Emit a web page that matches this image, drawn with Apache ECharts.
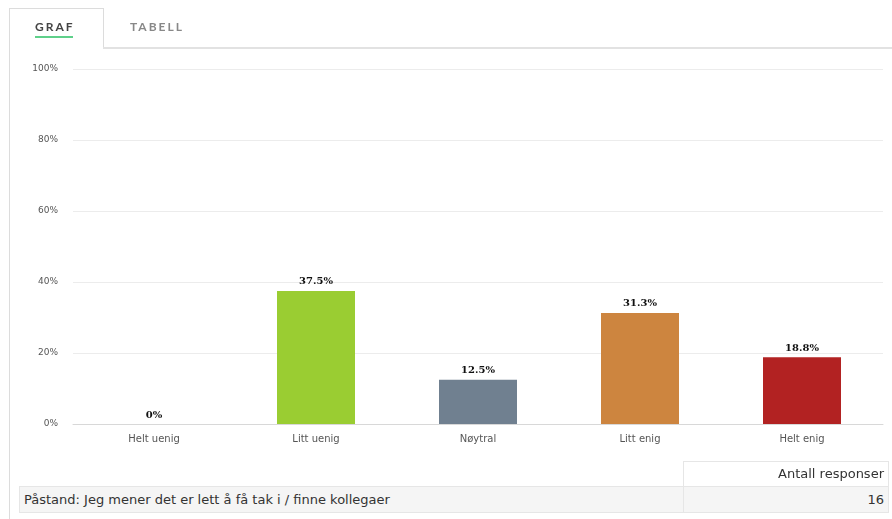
<!DOCTYPE html>
<html>
<head>
<meta charset="utf-8">
<script src="https://cdn.jsdelivr.net/npm/echarts@6/dist/echarts.min.js"></script>
<style>
  html, body { margin: 0; padding: 0; background: #fff; }
  body { width: 892px; height: 519px; position: relative; overflow: hidden; font-family: "DejaVu Sans", sans-serif; }
  #chart { position: absolute; left: 0; top: 0; width: 892px; height: 519px; }
  .panel-left { position: absolute; left: 9px; top: 8px; width: 1px; height: 511px; background: #dcdcdc; }
  .tab-line { position: absolute; left: 103px; top: 47px; width: 789px; height: 2px; background: #e2e2e2; }
  .tab-top { position: absolute; left: 9px; top: 8px; width: 94px; height: 1px; background: #dcdcdc; }
  .tab-right { position: absolute; left: 103px; top: 8px; width: 1px; height: 41px; background: #dcdcdc; }
  .tab { position: absolute; top: 19px; font-size: 12px; font-weight: bold; letter-spacing: 2px; font-family: "Lato", "Open Sans", sans-serif; }
  .tab.active { left: 35px; color: #444; }
  .tab.active::after { content: ""; position: absolute; left: 0; right: 2px; top: 17px; height: 2px; background: #5fd08a; }
  .tab.other { left: 130px; color: #888; }
  .tbl-head { position: absolute; left: 683px; top: 461px; width: 206px; height: 25px; border: 1px solid #e6e6e6; border-bottom: none; box-sizing: border-box; font-size: 13px; color: #333; text-align: right; line-height: 24px; padding-right: 4px; }
  .tbl-row { position: absolute; left: 19px; top: 486px; width: 870px; height: 27px; background: #f5f5f5; border: 1px solid #e6e6e6; box-sizing: border-box; font-size: 13px; color: #333; line-height: 25px; }
  .tbl-row .q { position: absolute; left: 4px; }
  .tbl-row .n { position: absolute; right: 4px; }
  .tbl-row .div { position: absolute; left: 663px; top: 0; width: 1px; height: 25px; background: #e6e6e6; }
</style>
</head>
<body>
<div id="chart"></div>
<div class="panel-left"></div>
<div class="tab-top"></div>
<div class="tab-right"></div>
<div class="tab-line"></div>
<div class="tab active">GRAF</div>
<div class="tab other">TABELL</div>
<div class="tbl-head">Antall responser</div>
<div class="tbl-row"><span class="q">Påstand: Jeg mener det er lett å få tak i / finne kollegaer</span><span class="div"></span><span class="n">16</span></div>
<script>
// Svarfordeling for påstanden
const categories = ['Helt uenig', 'Litt uenig', 'Nøytral', 'Litt enig', 'Helt enig'];
const percentages = [0, 37.5, 12.5, 31.3, 18.8];
const barColors = ['#9acd32', '#9acd32', '#708090', '#cd853f', '#b22222'];
const yTicks = [0, 20, 40, 60, 80, 100];

const chart = echarts.init(document.getElementById('chart'));
chart.setOption({
  animation: false,
  grid: { left: 73, right: 9, top: 69, bottom: 95, containLabel: false },
  xAxis: {
    type: 'category',
    data: categories,
    axisLine: { lineStyle: { color: '#d8d8d8' } },
    axisTick: { show: false },
    axisLabel: { color: '#555', fontSize: 10, margin: 10, fontFamily: 'DejaVu Sans' }
  },
  yAxis: {
    type: 'value',
    min: yTicks[0],
    max: yTicks[yTicks.length - 1],
    interval: 20,
    axisLine: { show: false },
    axisTick: { show: false },
    splitLine: { lineStyle: { color: '#ececec' } },
    axisLabel: { color: '#555', fontSize: 9, margin: 15, formatter: '{value}%', fontFamily: 'DejaVu Sans' }
  },
  series: [{
    type: 'bar',
    barWidth: 78,
    data: percentages.map((v, i) => ({ value: v, itemStyle: { color: barColors[i] } })),
    label: {
      show: true,
      position: 'top',
      distance: 4,
      color: '#111',
      fontSize: 10,
      fontWeight: 'bold',
      fontFamily: 'DejaVu Serif',
      formatter: p => p.value + '%'
    }
  }]
});
</script>
</body>
</html>
